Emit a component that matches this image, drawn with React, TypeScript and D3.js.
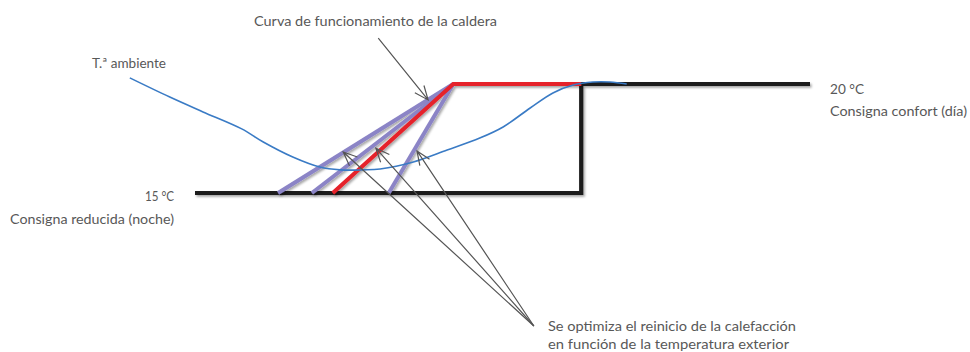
import React from "react";
import * as d3 from "d3";

// ---------- data (time units 0..100, temperature in °C) ----------
const setpointTimes = [0, 62.8, 62.8, 100];
const setpointTemps = [15, 15, 20, 20];

const boilerTimes = [22.4, 42.0, 62.8];
const boilerTemps = [15, 20, 20];

const restartStartTimes = [13.5, 19.0, 31.5];
const restartApexTime = 42.0;
const restartApexTemp = 20;

const ambientTimes = [-10.6, -4.1, 1.3, 7.6, 11.1, 15.9, 20.3, 23.6, 27.3, 30.1, 35.5, 41.0, 46.3, 50.1, 54.5, 58.2, 61.5, 64.7, 67.5, 70.2];
const ambientTemps = [20.28, 19.4, 18.72, 17.94, 17.34, 16.65, 16.19, 16.06, 16.06, 16.1, 16.42, 16.97, 17.52, 18.03, 18.9, 19.59, 19.95, 20.09, 20.09, 20.0];

// annotation arrows: [fromTime, fromTemp, toTime, toTemp]
const curveArrow = [29.8, 22.1, 37.9, 19.27];
const optimArrowFrom = [55.1, 8.9];
const optimArrowTipTimes = [24.1, 29.4, 36.1];
const optimArrowTipTemps = [16.88, 17.06, 16.93];

const W = 970;
const H = 352;

const x = d3.scaleLinear().domain([0, 100]).range([195, 810]);
const y = d3.scaleLinear().domain([15, 20]).range([193, 84]);

const TEXT = "#585858";
const FONT = "Futura, 'Century Gothic', Lato, sans-serif";

function arrowPath(x1: number, y1: number, x2: number, y2: number, len = 15, ang = 0.4) {
  const a = Math.atan2(y2 - y1, x2 - x1);
  const b1 = a + Math.PI - ang;
  const b2 = a + Math.PI + ang;
  return (
    `M${x1},${y1}L${x2},${y2}` +
    `M${x2 + len * Math.cos(b1)},${y2 + len * Math.sin(b1)}L${x2},${y2}` +
    `L${x2 + len * Math.cos(b2)},${y2 + len * Math.sin(b2)}`
  );
}

export default function App() {
  const line = d3
    .line<[number, number]>()
    .x((d) => x(d[0]))
    .y((d) => y(d[1]));
  const smooth = d3
    .line<[number, number]>()
    .x((d) => x(d[0]))
    .y((d) => y(d[1]))
    .curve(d3.curveCatmullRom.alpha(0.5));

  const setpoint = setpointTimes.map((t, i) => [t, setpointTemps[i]] as [number, number]);
  const boiler = boilerTimes.map((t, i) => [t, boilerTemps[i]] as [number, number]);
  const ambient = ambientTimes.map((t, i) => [t, ambientTemps[i]] as [number, number]);

  const txt = (s: string, px: number, py: number, len: number, anchor = "start") => (
    <text
      x={px}
      y={py}
      fontFamily={FONT}
      fontSize={14}
      fill={TEXT}
      textAnchor={anchor}
      textLength={len}
      lengthAdjust="spacingAndGlyphs"
    >
      {s}
    </text>
  );

  return (
    <svg width={W} height={H} style={{ position: "absolute", left: 0, top: 0, background: "#fff" }}>
      <defs>
        <filter id="sh" x="-10%" y="-10%" width="130%" height="130%">
          <feDropShadow dx="1.5" dy="1.8" stdDeviation="1.1" floodColor="#000" floodOpacity="0.35" />
        </filter>
      </defs>

      {/* setpoint */}
      <path d={line(setpoint) || ""} fill="none" stroke="#1c1a1a" strokeWidth={4.2} filter="url(#sh)" />

      {/* restart alternative curves */}
      <g filter="url(#sh)">
        {restartStartTimes.map((t, i) => (
          <path
            key={i}
            d={line([[t, 15], [restartApexTime, restartApexTemp]]) || ""}
            fill="none"
            stroke="#8b84c6"
            strokeWidth={4}
            strokeLinecap="butt"
          />
        ))}
        {/* boiler curve */}
        <path d={line(boiler) || ""} fill="none" stroke="#e5202a" strokeWidth={4} strokeLinejoin="miter" />
      </g>

      {/* ambient temperature */}
      <path d={smooth(ambient) || ""} fill="none" stroke="#3a7bc5" strokeWidth={1.6} />

      {/* arrows */}
      <g fill="none" stroke="#555" strokeWidth={1.2}>
        <path d={arrowPath(x(curveArrow[0]), y(curveArrow[1]), x(curveArrow[2]), y(curveArrow[3]))} />
        {optimArrowTipTimes.map((t, i) => (
          <path
            key={i}
            d={arrowPath(x(optimArrowFrom[0]), y(optimArrowFrom[1]), x(t), y(optimArrowTipTemps[i]))}
          />
        ))}
      </g>

      {/* labels */}
      {txt("Curva de funcionamiento de la caldera", 254, 26, 243)}
      {txt("T.ª ambiente", 92, 68, 74)}
      {txt("20 °C", 830, 94, 34)}
      {txt("Consigna confort (día)", 830, 116, 137)}
      {txt("15 °C", 174, 201, 29, "end")}
      {txt("Consigna reducida (noche)", 174, 224, 164, "end")}
      {txt("Se optimiza el reinicio de la calefacción", 548, 331, 248)}
      {txt("en función de la temperatura exterior", 548, 349, 241)}
    </svg>
  );
}
